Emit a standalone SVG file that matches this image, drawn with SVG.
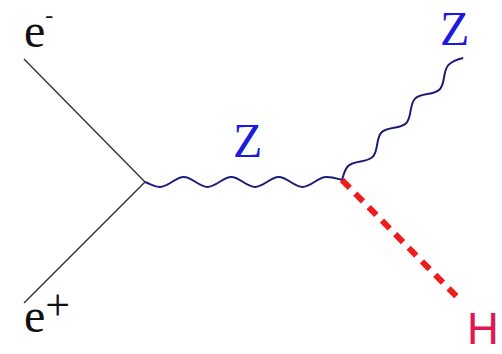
<svg xmlns="http://www.w3.org/2000/svg" width="502" height="354" viewBox="0 0 502 354">
<style>
.fermion{stroke:#333;stroke-width:1.4;fill:none}
.boson{stroke:#1c1c78;stroke-width:2;fill:none;stroke-linejoin:round}
.higgs{stroke:#f01c1c;stroke-width:6;fill:none;stroke-dasharray:11 8}
.serif{font-family:"Liberation Serif","Times New Roman",serif}
.zlabel{fill:#1a1ae0;font-size:48px}
.elabel{fill:#111;font-size:48px}
.hlabel{fill:#e3174f;font-family:"Liberation Sans",Arial,sans-serif;font-size:44px}
</style>
<rect width="502" height="354" fill="#fff"/>
<g id="connectors">
<line class="fermion" x1="24" y1="59" x2="145" y2="182"/>
<line class="fermion" x1="24" y1="303" x2="145" y2="182"/>
<path class="boson" d="M145,182 C151,184 154,187 160,187 C168.6,187 175.1,177 183.75,177 C192.4,177 198.9,187 207.5,187 C216.1,187 222.6,177 231.25,177 C239.9,177 246.4,187 255,187 C263.6,187 270.1,177 278.75,177 C287.4,177 293.9,187 302.5,187 C311.1,187 317.6,177 326.25,177 C334,177 338,179 342,180"/>
<path class="boson" transform="translate(342,180) rotate(-45.2)" d="M0,0 C5,-2.5 9,-5.5 14.25,-5.5 C22.9,-5.5 29.4,5.5 38,5.5 C46.6,5.5 53.1,-5.5 61.75,-5.5 C70.4,-5.5 76.9,5.5 85.5,5.5 C94.1,5.5 100.6,-5.5 109.25,-5.5 C117.9,-5.5 124.4,5.5 133,5.5 C141.6,5.5 148.1,-5.5 156.75,-5.5 C163,-5.5 168,-2.5 172,0"/>
<line class="higgs" x1="342" y1="180" x2="460" y2="300"/>
</g>
<g id="electron">
<text class="serif elabel" x="24" y="47">e<tspan font-size="24" dy="-24">-</tspan></text>
</g>
<g id="positron">
<text class="serif elabel" x="24" y="332">e<tspan font-size="44" dy="-12">+</tspan></text>
</g>
<g id="z-internal">
<text class="serif zlabel" x="233" y="157">Z</text>
</g>
<g id="z-outgoing">
<text class="serif zlabel" x="440" y="45">Z</text>
</g>
<g id="higgs">
<text class="hlabel" x="467" y="344">H</text>
</g>
</svg>
